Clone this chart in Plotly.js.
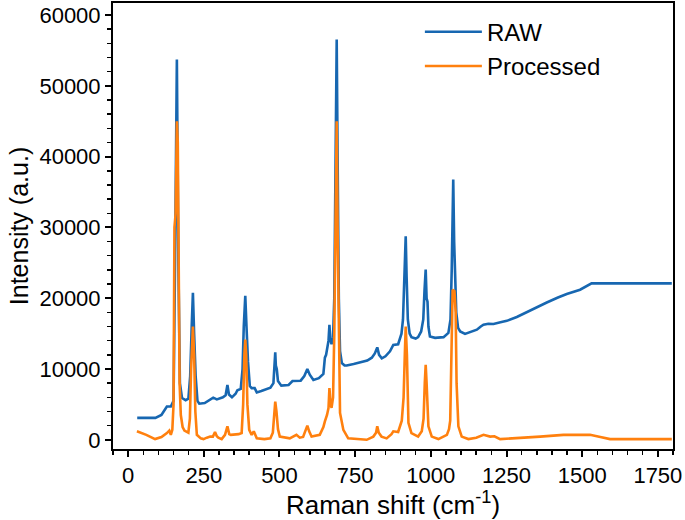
<!DOCTYPE html>
<html>
<head>
<meta charset="utf-8">
<script src="https://cdn.plot.ly/plotly-3.0.1.min.js"></script>
<style>html,body{margin:0;padding:0;background:#fff;}#chart{width:685px;height:520px;}</style>
</head>
<body>
<div id="chart"></div>
<script>
// Raman shift (cm^-1) and intensity (a.u.)
const rawX = [30, 90, 110, 128, 141, 150, 155, 161, 166, 171, 178, 190, 199, 205, 210, 214, 218, 223, 229, 235, 253, 270, 281, 293, 304, 313, 322, 328, 333, 343, 355, 361, 372, 378, 382, 387, 391, 396, 402, 408, 418, 425, 440, 455, 470, 480, 483, 486, 488, 491, 495, 506, 530, 543, 570, 582, 592, 600, 612, 630, 645, 650, 654, 658, 662, 665, 668, 672, 677, 681, 685, 689, 692, 696, 700, 706, 715, 722, 745, 766, 790, 805, 815, 823, 829, 838, 850, 865, 876, 892, 903, 908, 913, 917, 920, 924, 930, 936, 950, 958, 968, 975, 979, 983, 986, 989, 992, 997, 1014, 1042, 1058, 1065, 1069, 1074, 1077, 1080, 1084, 1090, 1097, 1113, 1130, 1152, 1165, 1174, 1190, 1207, 1230, 1251, 1284, 1310, 1328, 1355, 1383, 1420, 1449, 1493, 1531, 1796];
const rawY = [3100, 3100, 3500, 4700, 4700, 5500, 25000, 53700, 25000, 8000, 5900, 5600, 5800, 9000, 16000, 20750, 15000, 9000, 5500, 5100, 5200, 5600, 5950, 5700, 5900, 6000, 6300, 7750, 6400, 6000, 6500, 7000, 7200, 10000, 16000, 20350, 16000, 11000, 7600, 7300, 7300, 6700, 6900, 7100, 7350, 8000, 10000, 12350, 10500, 10000, 8300, 7650, 7750, 8300, 8350, 9000, 10000, 9200, 8450, 8700, 9300, 11600, 12000, 13200, 14000, 16250, 14200, 13500, 14500, 20000, 40000, 56550, 40000, 20000, 12500, 10850, 10500, 10500, 10700, 10950, 11200, 11600, 12200, 13050, 12000, 11500, 11800, 12500, 13400, 13500, 15000, 17000, 23000, 28750, 23000, 17000, 15000, 14500, 14300, 14500, 15300, 17000, 21000, 24050, 20000, 19500, 16000, 14600, 14400, 14500, 15100, 17000, 24000, 36750, 28000, 22000, 18000, 15800, 15300, 14950, 15200, 15550, 16000, 16250, 16400, 16350, 16600, 16800, 17350, 17900, 18250, 18800, 19400, 20100, 20600, 21200, 22100, 22100];

const procX = [29, 60, 89, 110, 128, 136, 141, 146, 150, 153, 157, 161, 164, 167, 170, 174, 180, 186, 192, 199, 204, 208, 214, 218, 222, 227, 240, 249, 260, 271, 280, 287, 293, 298, 309, 320, 328, 334, 339, 350, 365, 375, 380, 384, 387, 390, 394, 400, 408, 415, 425, 450, 470, 478, 482, 486, 490, 495, 501, 534, 556, 567, 578, 586, 592, 598, 606, 633, 645, 650, 657, 662, 665, 668, 672, 677, 681, 685, 689, 692, 696, 700, 711, 727, 788, 810, 819, 823, 828, 837, 854, 870, 876, 892, 904, 910, 914, 917, 921, 924, 926, 936, 958, 970, 976, 980, 983, 986, 989, 992, 1003, 1025, 1053, 1060, 1064, 1068, 1072, 1078, 1082, 1085, 1091, 1102, 1124, 1150, 1174, 1196, 1210, 1229, 1273, 1361, 1438, 1526, 1560, 1592, 1796];
const procY = [1200, 700, 100, 400, 950, 1300, 700, 1400, 5000, 30000, 32000, 45000, 42000, 20000, 8000, 3500, 1800, 1300, 1200, 1000, 3000, 10000, 16000, 12000, 4000, 700, 200, 100, 300, 450, 450, 1100, 500, 300, 100, 700, 1900, 800, 700, 700, 800, 950, 5000, 12000, 14150, 12000, 5000, 1400, 700, 1200, 200, 100, 200, 1000, 4000, 5400, 4000, 1500, 450, 200, 700, 300, 400, 1200, 2000, 1200, 450, 700, 1800, 2600, 3500, 4500, 7300, 5500, 4500, 6000, 15000, 30000, 45000, 30000, 12000, 3800, 1400, 200, 0, 450, 1000, 1900, 1000, 450, 200, 800, 1200, 1100, 2700, 6000, 12000, 16000, 12000, 5000, 2400, 950, 450, 1200, 3000, 8000, 10600, 8000, 4000, 1900, 450, 100, 700, 1500, 2700, 10000, 21200, 21000, 18000, 8000, 1900, 450, 100, 300, 700, 450, 500, 100, 200, 450, 700, 700, 400, 100, 100];

const seriesNames = ['RAW', 'Processed'];
const xTicks = [0, 250, 500, 750, 1000, 1250, 1500, 1750];
const yTicks = [0, 10000, 20000, 30000, 40000, 50000, 60000];

const FONT = 'Arial, "Liberation Sans", sans-serif';

const traces = [
  {x: rawX, y: rawY, name: seriesNames[0], type: 'scatter', mode: 'lines',
   line: {color: '#1767b1', width: 2.6}},
  {x: procX, y: procY, name: seriesNames[1], type: 'scatter', mode: 'lines',
   line: {color: '#ff800e', width: 2.6}}
];

const axisCommon = {
  showgrid: false, zeroline: false,
  showline: true, linecolor: '#000', linewidth: 2, mirror: true,
  ticks: 'outside', ticklen: 6, tickwidth: 2, tickcolor: '#000',
  tickformat: 'd',
  tickfont: {family: FONT, size: 22, color: '#000'}
};

const layout = {
  width: 685, height: 520,
  margin: {l: 113, r: 12, t: 3, b: 71},
  paper_bgcolor: '#fff', plot_bgcolor: '#fff',
  font: {family: FONT, color: '#000'},
  showlegend: true,
  legend: {x: 0.548, y: 0.985, xanchor: 'left', yanchor: 'top',
           bgcolor: 'rgba(0,0,0,0)', font: {family: FONT, size: 24, color: '#000'},
           itemwidth: 57, tracegroupgap: 0},
  xaxis: Object.assign({}, axisCommon, {
    range: [-50, 1800], tickvals: xTicks,
    minor: {dtick: 50, tick0: 0, ticks: 'outside', ticklen: 4, tickwidth: 1.5, tickcolor: '#000'},
    title: {text: 'Raman shift (cm<sup>-1</sup>)', font: {family: FONT, size: 26, color: '#000'}, standoff: 0}
  }),
  yaxis: Object.assign({}, axisCommon, {
    range: [-1300, 61700], tickvals: yTicks,
    minor: {dtick: 2000, tick0: 0, ticks: 'outside', ticklen: 4, tickwidth: 1.5, tickcolor: '#000'},
    title: {text: 'Intensity (a.u.)', font: {family: FONT, size: 25, color: '#000'}, standoff: 4}
  })
};

Plotly.newPlot('chart', traces, layout, {displayModeBar: false, staticPlot: true});
</script>
</body>
</html>
